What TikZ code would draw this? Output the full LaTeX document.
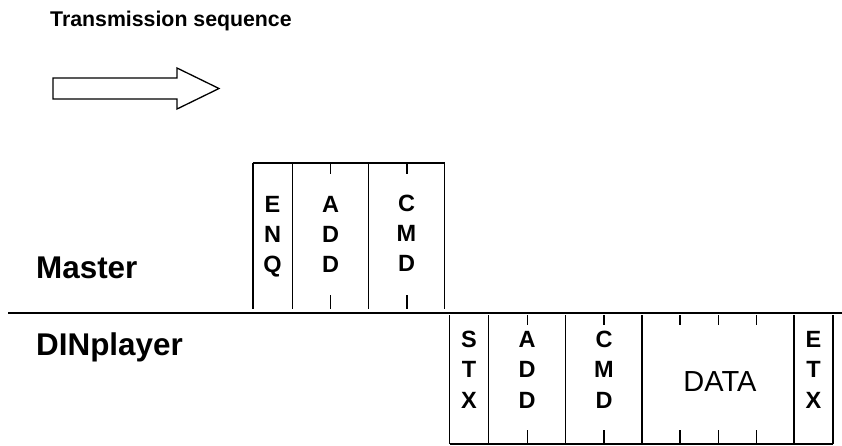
\documentclass[tikz,border=0pt]{standalone}
\usepackage{fontspec}
\setmainfont{Liberation Sans}
\begin{document}
\begin{tikzpicture}[x=1pt,y=-1pt,
  frame/.style={line width=1.6pt, line cap=butt},
  baseline/.style={line width=2pt},
  title/.style={font=\fontsize{21.3}{25}\selectfont\bfseries, inner sep=0pt, anchor=base west},
  role/.style={font=\fontsize{31.4}{36}\selectfont\bfseries, inner sep=0pt, anchor=base west},
  letter/.style={font=\fontsize{23.5}{28}\selectfont\bfseries, inner sep=0pt, anchor=base},
  datatext/.style={font=\fontsize{29}{34}\selectfont, inner sep=0pt, anchor=base}]
\useasboundingbox (0,0) rectangle (842,445);

% title and arrow
\node[title] (title) at (50,26) {Transmission sequence};
\draw[line width=1.3pt, line join=miter] (53,78) -- (177,78) -- (177,68) -- (219,88.5) -- (177,109) -- (177,99) -- (53,99) -- cycle;

% role labels
\node[role] (master) at (36,278.3) {Master};
\node[role] (din) at (36,355) {DINplayer};

% main line
\draw[baseline] (8,312.7) -- (842,312.7);

% Master frame
\draw[frame] (252.7,162.7) -- (444.5,162.7);
\foreach \x in {252.7,292.3,368.5,444.5} \draw[frame] (\x,162.7) -- (\x,308.5);
\foreach \x in {330.5,407} {
  \draw[frame] (\x,162.7) -- (\x,174);
  \draw[frame] (\x,295) -- (\x,308.5);
}

% DINplayer frame
\draw[frame] (449.5,444) -- (833,444);
\foreach \x in {449.5,488.5,565.5,642,794,833} \draw[frame] (\x,315) -- (\x,444);
\foreach \x in {527.5,604,680,718.3,756.5} {
  \draw[frame] (\x,315) -- (\x,325);
  \draw[frame] (\x,430) -- (\x,444);
}

% Master letters
\node[letter] (enq1) at (272.5,212.5) {E};
\node[letter] (enq2) at (272.5,242.5) {N};
\node[letter] (enq3) at (272.5,272.5) {Q};
\node[letter] (madd1) at (330.5,212.5) {A};
\node[letter] (madd2) at (330.5,242.5) {D};
\node[letter] (madd3) at (330.5,272.5) {D};
\node[letter] (mcmd1) at (406.5,211.5) {C};
\node[letter] (mcmd2) at (406.5,241) {M};
\node[letter] (mcmd3) at (406.5,271.5) {D};

% DINplayer letters
\node[letter] (stx1) at (469,347.7) {S};
\node[letter] (stx2) at (469,377.7) {T};
\node[letter] (stx3) at (469,408.2) {X};
\node[letter] (dadd1) at (527,347.7) {A};
\node[letter] (dadd2) at (527,377.7) {D};
\node[letter] (dadd3) at (527,408.2) {D};
\node[letter] (dcmd1) at (604,347.7) {C};
\node[letter] (dcmd2) at (604,377.7) {M};
\node[letter] (dcmd3) at (604,408.2) {D};
\node[datatext] (data) at (720,391.7) {DATA};
\node[letter] (etx1) at (813.5,347.7) {E};
\node[letter] (etx2) at (813.5,377.7) {T};
\node[letter] (etx3) at (813.5,408.2) {X};
\end{tikzpicture}
\end{document}
